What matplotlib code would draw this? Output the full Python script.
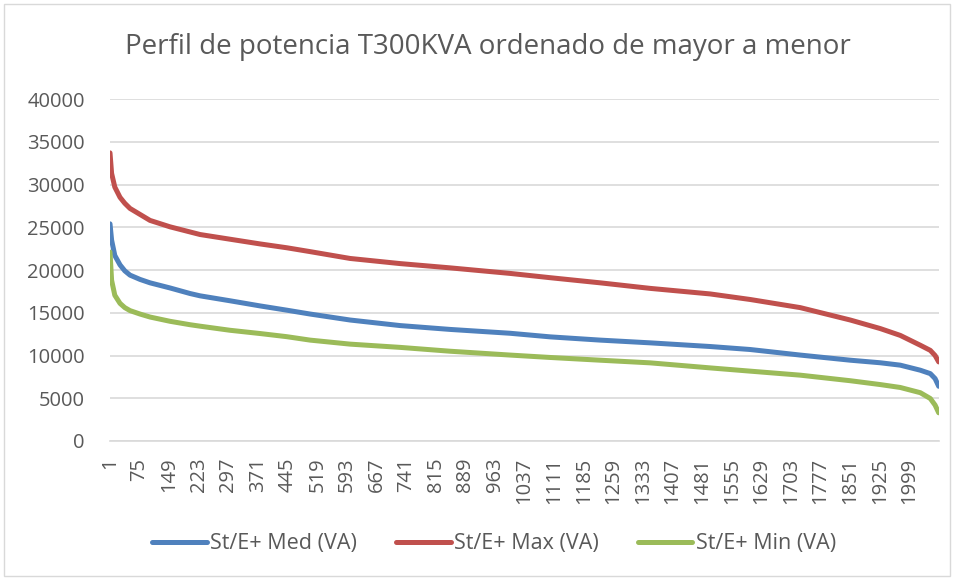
import matplotlib
matplotlib.use('Agg')
from matplotlib import pyplot as plt
from matplotlib.patches import Rectangle

# Sorted power profile of the T300KVA transformer (rank -> VA)
n_points = 2072
ranks = [1, 5, 13, 26, 38, 51, 76, 101, 151, 201, 226, 301, 376, 443, 501,
         601, 726, 851, 1001, 1101, 1226, 1351, 1501, 1601, 1726, 1851,
         1926, 1976, 2026, 2051, 2063, 2072]

med_va = [25400, 23500, 21700, 20600, 19900, 19400, 18900, 18500, 17900,
          17250, 16980, 16400, 15800, 15300, 14850, 14150, 13500, 13050,
          12600, 12180, 11800, 11480, 11050, 10700, 10050, 9450, 9150,
          8870, 8280, 7880, 7300, 6400]

max_va = [33700, 31300, 29700, 28500, 27800, 27200, 26500, 25800, 25050,
          24450, 24150, 23600, 23050, 22600, 22150, 21350, 20750, 20250,
          19600, 19100, 18500, 17850, 17200, 16550, 15600, 14150, 13150,
          12350, 11200, 10600, 10000, 9250]

min_va = [22100, 18800, 17050, 16100, 15600, 15250, 14850, 14500, 14000,
          13600, 13430, 12950, 12570, 12200, 11800, 11330, 10950, 10500,
          10050, 9770, 9450, 9140, 8550, 8170, 7700, 7050, 6600, 6260,
          5650, 4970, 4200, 3300]

series_labels = ['St/E+ Med (VA)', 'St/E+ Max (VA)', 'St/E+ Min (VA)']
series_colors = ['#4F81BD', '#C0504D', '#9BBB59']

tick_step = 74
y_ticks = list(range(0, 40001, 5000))

text_color = '#595959'
grid_color = '#D9D9D9'
plt.rcParams['font.family'] = ['Open Sans', 'DejaVu Sans']

fig = plt.figure(figsize=(9.54, 5.8), dpi=100)
W, H = 954, 580

# plot area in pixels -> figure fraction
left_px, right_px, top_px, bottom_px = 109.8, 938.9, 99, 441
ax = fig.add_axes([left_px / W, 1 - bottom_px / H,
                   (right_px - left_px) / W, (bottom_px - top_px) / H])

for vals, lab, col in zip([med_va, max_va, min_va], series_labels, series_colors):
    ax.plot(ranks, vals, color=col, lw=3.6, label=lab,
            solid_capstyle='round', solid_joinstyle='round')

ax.set_xlim(0.5, n_points + 0.5)
ax.set_ylim(0, 40000)

# category axis labels every 74 ranks (last one that fits is 1999)
x_ticks = [t for t in range(1, n_points + 1, tick_step) if t <= 1999]
ax.set_xticks(x_ticks)
ax.set_xticklabels([str(t) for t in x_ticks], rotation=90)
ax.set_yticks(y_ticks)
ax.set_yticklabels([str(t) for t in y_ticks])
ax.tick_params(axis='both', length=0, labelsize=14.5, labelcolor=text_color)
ax.tick_params(axis='y', pad=18)
ax.tick_params(axis='x', pad=12)

ax.grid(axis='y', color=grid_color, lw=1.2)
ax.set_axisbelow(True)
for side in ['top', 'right', 'left']:
    ax.spines[side].set_visible(False)
ax.spines['bottom'].set_color(grid_color)
ax.spines['bottom'].set_linewidth(1.2)

fig.text(488 / W, 1 - 47 / H, 'Perfil de potencia T300KVA ordenado de mayor a menor',
         ha='center', va='center', fontsize=20, color=text_color)

leg = ax.legend(loc='center', bbox_to_anchor=(494 / W, 1 - 544 / H),
                bbox_transform=fig.transFigure, ncol=3, frameon=False,
                fontsize=15.5, handlelength=2.55, handletextpad=0.15,
                columnspacing=1.8, labelcolor=text_color)

# light chart-area border
fig.add_artist(Rectangle((4 / W, 4 / H), 946 / W, 572 / H,
                         transform=fig.transFigure, fill=False,
                         edgecolor=grid_color, lw=1))

fig.savefig('out.png', dpi=100)
